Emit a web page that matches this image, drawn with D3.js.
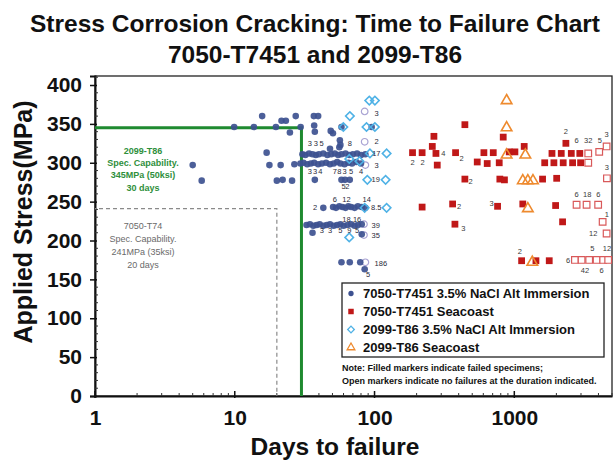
<!DOCTYPE html>
<html>
<head>
<meta charset="utf-8">
<script src="https://cdn.jsdelivr.net/npm/d3@7"></script>
<style>
  body { margin: 0; background: #fff; }
  svg { display: block; }
  text { font-family: "Liberation Sans", Arial, Helvetica, sans-serif; }
</style>
</head>
<body>
<svg id="chart" width="615" height="461"></svg>
<script>
// ---- chart text ----
const titleLines = ["Stress Corrosion Cracking: Time to Failure Chart", "7050-T7451 and 2099-T86"];
const xAxisTitle = "Days to failure";
const yAxisTitle = "Applied Stress(MPa)";
const yTickValues = [0, 50, 100, 150, 200, 250, 300, 350, 400];
const xTickValues = [1, 10, 100, 1000];
const xTickLabels = ["1", "10", "100", "1000"];

// ---- specification capability limits [days, MPa] ----
const spec2099 = [[1, 345], [30, 345], [30, 0]];
const spec7050 = [[1, 241], [20, 241], [20, 0]];
const spec2099Text = ["2099-T86", "Spec. Capability.", "345MPa (50ksi)", "30 days"];
const spec7050Text = ["7050-T74", "Spec. Capability.", "241MPa (35ksi)", "20 days"];

// ---- 7050-T7451, 3.5% NaCl alternate immersion, failed [days, MPa] ----
const immersion7050Failed = [
  [5.0, 297], [5.8, 277], [9.9, 346], [13.7, 346], [15.7, 360], [16.9, 313], [17.7, 297],
  [19.7, 346], [20.0, 277], [21.3, 297], [21.6, 354], [22.0, 278], [23.2, 354], [24.8, 339],
  [25.7, 277], [26.7, 298], [27.3, 360], [29.6, 346],
  [36.8, 360], [39.5, 360], [37.0, 348], [37.4, 340], [48.6, 341], [50.4, 338], [56.5, 329],
  [57, 323], [58, 346], [95.4, 346], [48, 318], [56, 320],
  [30.5, 311], [32, 310], [34, 312], [36, 311], [38, 310], [40, 311], [43, 312], [46, 310],
  [49, 311], [52, 312], [55, 310], [58, 311], [62, 312], [66, 310], [70, 311], [75, 312],
  [80, 310], [86, 311],
  [29.5, 299], [31, 300], [33, 298], [35, 299], [37, 300], [39.5, 298], [42, 299], [45, 300],
  [48, 298], [51, 299], [54, 301], [57, 299], [61, 298], [65, 300], [69, 299], [74, 301], [80, 299],
  [37.4, 278], [58, 278], [61.5, 278], [66.5, 278],
  [43, 242], [50.5, 243], [53, 242], [56, 244], [59, 243], [62, 242], [65, 244], [68, 243],
  [72, 242], [76, 244], [81, 243], [86, 242],
  [32.6, 220], [34.5, 221], [36.5, 219], [38.5, 220], [40.5, 221], [43, 219], [45.5, 220],
  [48, 221], [51, 219], [54, 220], [57, 221], [60, 219], [64, 220], [68, 221], [72, 219],
  [76, 220], [81, 221],
  [36, 210], [81, 208], [58, 172], [66.5, 172], [79, 172], [85, 163]
];
// 7050-T7451 immersion, no failure at the duration shown
const immersion7050Open = [[85, 366], [85, 327], [86, 297], [84, 221], [84, 207], [86, 172]];

// ---- 7050-T7451 seacoast, failed ----
const seacoast7050Failed = [
  [187, 313], [219, 313], [259, 321], [266, 334], [275, 312], [281, 297], [380, 313], [443, 349],
  [443, 279], [219, 243], [362, 247], [376, 221], [543, 301], [606, 313], [640, 299], [707, 313],
  [780, 300], [788, 279], [850, 278], [759, 244], [833, 333], [920, 314], [1010, 314], [1177, 321],
  [1150, 247], [1128, 174], [1428, 174], [1778, 174], [1593, 279], [1650, 300], [1860, 312],
  [2010, 280], [1975, 245], [2215, 224], [2339, 325], [1920, 300], [2238, 300], [2612, 300],
  [2980, 300], [2167, 312], [2557, 312], [2942, 312]
];
// 7050-T7451 seacoast, no failure
const seacoast7050Open = [
  [3380, 312], [3380, 300], [4050, 314], [4575, 321], [4600, 280], [2790, 246], [3290, 246],
  [3980, 246], [4285, 224], [4575, 209], [2714, 175], [3030, 175], [3433, 175], [3881, 175],
  [4325, 175], [4695, 175]
];

// ---- 2099-T86 immersion and seacoast (open markers) ----
const immersion2099 = [
  [91.7, 380], [100.6, 380], [66.6, 360], [59.8, 346], [87.6, 346], [100.6, 346], [92.7, 312],
  [122, 312], [88.8, 278], [120, 278], [85, 242], [122, 242], [65.9, 204], [66, 305], [78, 302]
];
const seacoast2099 = [
  [881, 380], [881, 345], [881, 310], [1200, 310], [1150, 277], [1250, 277], [1360, 277],
  [1250, 241], [1345, 172]
];

// ---- specimen counts written beside markers [days, MPa, text] ----
const countLabelsImmersion = [
  [103.5, 363, "3"], [103.5, 327, "2"], [103, 312, "17"], [103.5, 297, "3"], [102, 278, "19"],
  [103, 242, "8.5"], [102, 220, "39"], [102, 206, "35"], [111, 171, "186"], [90, 157, "5"],
  [34.4, 325, "3"], [38, 325, "3"], [41.8, 325, "5"], [66.6, 325, "8"],
  [34.4, 289, "3"], [37.5, 289, "3"], [41, 289, "4"], [52, 289, "7"], [56, 289, "8"],
  [61, 289, "3"], [68, 289, "5"], [80, 289, "4"], [60, 270, "5"], [64, 270, "2"],
  [37.6, 242, "2"], [52, 253, "6"], [63, 253, "12"], [88, 253, "14"],
  [42, 213, "3"], [48, 213, "3"], [57, 213, "5"], [66, 213, "9"], [75, 213, "5"],
  [63, 227, "18"], [75, 227, "16"]
];
const countLabelsSeacoast = [
  [187, 301, "2"], [221, 301, "2"], [310, 312, "4"], [420, 306, "2"], [487, 276, "2"],
  [402, 244, "2"], [431, 215, "3"], [688, 248, "3"], [1097, 186, "2"], [2339, 340, "2"],
  [2790, 329, "6"], [3380, 329, "32"], [4090, 329, "5"], [4575, 337, "3"], [4600, 294, "3"],
  [2790, 259, "6"], [3320, 259, "18"], [3990, 259, "6"], [4600, 234, "1"], [3667, 209, "12"],
  [2430, 175, "6"], [3620, 190, "5"], [4600, 190, "12"], [3200, 162, "42"], [4210, 162, "6"]
];

// ---- legend ----
const legendLabels = [
  "7050-T7451 3.5% NaCl Alt Immersion",
  "7050-T7451 Seacoast",
  "2099-T86 3.5% NaCl Alt Immersion",
  "2099-T86 Seacoast"
];
const noteLines = [
  "Note: Filled markers indicate failed specimens;",
  "Open markers indicate no failures at the duration indicated."
];

// ---- colours ----
const cBlue = "#3d5190", cRed = "#c01818", cCyan = "#4fb2e6", cOrange = "#ee8a2e";
const cLavender = "#a9a3d3", cPink = "#d9595a", cGreen = "#1f8a30";

// ---- layout ----
const svg = d3.select("#chart");
const plot = { left: 95, right: 612, top: 76, bottom: 396 };
const x = d3.scaleLog().domain([1, 5000]).range([plot.left, plot.right]);
const y = d3.scaleLinear().domain([0, 411.6]).range([plot.bottom, plot.top]);

// titles
svg.append("g").selectAll("text").data(titleLines).join("text")
  .attr("x", 315).attr("y", (d, i) => 31.5 + i * 31.5)
  .attr("text-anchor", "middle").attr("font-size", 24.5).attr("font-weight", "bold")
  .attr("fill", "#111").text(d => d);

svg.append("text").attr("x", 335).attr("y", 455).attr("text-anchor", "middle")
  .attr("font-size", 24.5).attr("font-weight", "bold").attr("fill", "#111").text(xAxisTitle);
svg.append("text").attr("transform", "translate(32,222) rotate(-90)").attr("text-anchor", "middle")
  .attr("font-size", 25).attr("font-weight", "bold").attr("fill", "#111").text(yAxisTitle);

// frame
svg.append("rect").attr("x", plot.left).attr("y", plot.top)
  .attr("width", plot.right - plot.left).attr("height", plot.bottom - plot.top)
  .attr("fill", "#fff").attr("stroke", "#222").attr("stroke-width", 1.3);

// y axis: majors outward, minors every 10 MPa
const yAxis = d3.axisLeft(y).tickValues(yTickValues).tickSize(5).tickPadding(8).tickFormat(d3.format("d"));
const gy = svg.append("g").attr("transform", `translate(${plot.left},0)`).call(yAxis);
gy.select(".domain").attr("stroke", "#111").attr("stroke-width", 2);
gy.selectAll(".tick line").attr("stroke", "#111").attr("stroke-width", 1.5).attr("x2", -5).attr("x1", 2);
gy.selectAll(".tick text").attr("font-size", 21).attr("font-weight", "bold").attr("fill", "#111")
  .attr("font-family", "'Liberation Sans', Arial, sans-serif");
svg.append("g").selectAll("line").data(d3.range(10, 411, 10).filter(v => v % 50 !== 0)).join("line")
  .attr("x1", plot.left).attr("x2", plot.left + 3).attr("y1", d => y(d)).attr("y2", d => y(d))
  .attr("stroke", "#333").attr("stroke-width", 1);

// x axis: decades labelled, minor ticks inside
const xAxis = d3.axisBottom(x).tickValues(xTickValues).tickSize(0).tickPadding(14)
  .tickFormat((d, i) => xTickLabels[i]);
const gx = svg.append("g").attr("transform", `translate(0,${plot.bottom})`).call(xAxis);
gx.select(".domain").attr("stroke", "#111").attr("stroke-width", 2);
gx.selectAll(".tick text").attr("font-size", 21).attr("font-weight", "bold").attr("fill", "#111")
  .attr("font-family", "'Liberation Sans', Arial, sans-serif");
const xMinor = [];
[1, 10, 100, 1000].forEach(b => { for (let k = 2; k <= 9; k++) if (b * k <= 5000) xMinor.push(b * k); });
svg.append("g").selectAll("line").data(xMinor).join("line")
  .attr("x1", d => x(d)).attr("x2", d => x(d)).attr("y1", plot.bottom).attr("y2", plot.bottom - 3)
  .attr("stroke", "#333").attr("stroke-width", 1);
svg.append("g").selectAll("line").data(xTickValues).join("line")
  .attr("x1", d => x(d)).attr("x2", d => x(d)).attr("y1", plot.bottom + 2).attr("y2", plot.bottom - 5)
  .attr("stroke", "#111").attr("stroke-width", 1.5);

// specification limit lines
const line = d3.line().x(d => x(d[0])).y(d => y(d[1]));
svg.append("path").datum(spec7050).attr("d", line).attr("fill", "none")
  .attr("stroke", "#8a8a8a").attr("stroke-width", 1.2).attr("stroke-dasharray", "4,3")
  .attr("stroke-dashoffset", -4);
svg.append("path").datum(spec2099).attr("d", line).attr("fill", "none")
  .attr("stroke", cGreen).attr("stroke-width", 3);

svg.append("g").selectAll("text").data(spec2099Text).join("text")
  .attr("x", 143).attr("y", (d, i) => 154 + i * 12.2).attr("text-anchor", "middle")
  .attr("font-size", 9).attr("font-weight", "bold").attr("fill", "#2f8f3c").text(d => d);
svg.append("g").selectAll("text").data(spec7050Text).join("text")
  .attr("x", 143).attr("y", (d, i) => 229 + i * 13).attr("text-anchor", "middle")
  .attr("font-size", 9).attr("fill", "#6a6a6a").text(d => d);

// markers
const pts = svg.append("g");
const sym = (type, size) => d3.symbol().type(type).size(size)();

pts.append("g").selectAll("path").data(immersion7050Open).join("path")
  .attr("transform", d => `translate(${x(d[0])},${y(d[1])})`).attr("d", sym(d3.symbolCircle, 34))
  .attr("fill", "#fff").attr("stroke", cLavender).attr("stroke-width", 1.2);
pts.append("g").selectAll("path").data(immersion7050Failed).join("path")
  .attr("transform", d => `translate(${x(d[0])},${y(d[1])})`).attr("d", sym(d3.symbolCircle, 34))
  .attr("fill", cBlue).attr("fill-opacity", 0.92);
pts.append("g").selectAll("path").data(immersion2099).join("path")
  .attr("transform", d => `translate(${x(d[0])},${y(d[1])}) rotate(45)`).attr("d", sym(d3.symbolSquare, 36))
  .attr("fill", "none").attr("stroke", cCyan).attr("stroke-width", 1.6);
pts.append("g").selectAll("path").data(seacoast7050Open).join("path")
  .attr("transform", d => `translate(${x(d[0])},${y(d[1])})`).attr("d", sym(d3.symbolSquare, 44))
  .attr("fill", "#fff").attr("stroke", cPink).attr("stroke-width", 1.2);
pts.append("g").selectAll("path").data(seacoast7050Failed).join("path")
  .attr("transform", d => `translate(${x(d[0])},${y(d[1])})`).attr("d", sym(d3.symbolSquare, 46))
  .attr("fill", cRed);
pts.append("g").selectAll("path").data(seacoast2099).join("path")
  .attr("transform", d => `translate(${x(d[0])},${y(d[1])})`).attr("d", sym(d3.symbolTriangle, 48))
  .attr("fill", "none").attr("stroke", cOrange).attr("stroke-width", 1.6);

// counts
svg.append("g").selectAll("text").data(countLabelsImmersion).join("text")
  .attr("x", d => x(d[0])).attr("y", d => y(d[1])).attr("dy", "0.35em").attr("text-anchor", "middle")
  .attr("font-size", 7.5).attr("fill", "#2a2a3a").text(d => d[2]);
svg.append("g").selectAll("text").data(countLabelsSeacoast).join("text")
  .attr("x", d => x(d[0])).attr("y", d => y(d[1])).attr("dy", "0.35em").attr("text-anchor", "middle")
  .attr("font-size", 7.5).attr("fill", "#3a3a3a").text(d => d[2]);

// legend
const lg = svg.append("g");
lg.append("rect").attr("x", 342).attr("y", 283).attr("width", 262).attr("height", 74)
  .attr("fill", "#fff").attr("stroke", "#222").attr("stroke-width", 1.3);
const legendMarks = [
  { d: sym(d3.symbolCircle, 22), fill: cBlue, stroke: "none", rot: 0 },
  { d: sym(d3.symbolSquare, 30), fill: cRed, stroke: "none", rot: 0 },
  { d: sym(d3.symbolSquare, 22), fill: "none", stroke: cCyan, rot: 45 },
  { d: sym(d3.symbolTriangle, 26), fill: "none", stroke: cOrange, rot: 0 }
];
const items = lg.selectAll("g.item").data(legendLabels).join("g").attr("class", "item")
  .attr("transform", (d, i) => `translate(351,${293.5 + i * 18})`);
items.append("path").attr("d", (d, i) => legendMarks[i].d)
  .attr("transform", (d, i) => `rotate(${legendMarks[i].rot})`)
  .attr("fill", (d, i) => legendMarks[i].fill).attr("stroke", (d, i) => legendMarks[i].stroke)
  .attr("stroke-width", 1.3);
items.append("text").attr("x", 12).attr("dy", "0.36em").attr("font-size", 13)
  .attr("font-weight", "bold").attr("fill", "#111").text(d => d);

svg.append("g").selectAll("text").data(noteLines).join("text")
  .attr("x", 342).attr("y", (d, i) => 371 + i * 12.5).attr("font-size", 9)
  .attr("font-weight", "bold").attr("fill", "#111").text(d => d);
</script>
</body>
</html>
